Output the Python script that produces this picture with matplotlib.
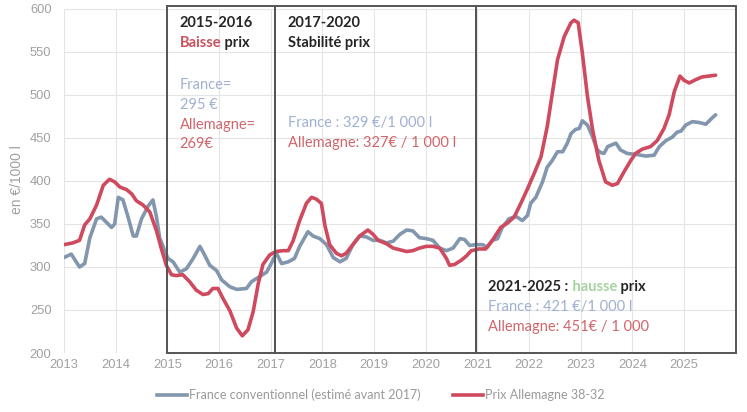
## prix du lait France / Allemagne
import matplotlib
matplotlib.use("Agg")
import matplotlib.pyplot as plt
from matplotlib.lines import Line2D
from matplotlib.patches import Rectangle

## donnees (annee decimale, euros / 1000 l)
france_x = [2013.00, 2013.14, 2013.30, 2013.40, 2013.50, 2013.63, 2013.72, 2013.82, 2013.92, 2013.98,
            2014.05, 2014.14, 2014.24, 2014.34, 2014.40, 2014.50, 2014.63, 2014.72, 2014.79, 2014.85,
            2015.01, 2015.11, 2015.24, 2015.37, 2015.50, 2015.63, 2015.72, 2015.82, 2015.95,
            2016.05, 2016.21, 2016.34, 2016.53, 2016.63, 2016.79, 2016.92,
            2017.01, 2017.11, 2017.21, 2017.34, 2017.46, 2017.56, 2017.72, 2017.82, 2017.95,
            2018.08, 2018.21, 2018.34, 2018.46, 2018.59, 2018.72, 2018.85, 2018.98,
            2019.11, 2019.24, 2019.37, 2019.50, 2019.63, 2019.75, 2019.88,
            2020.01, 2020.14, 2020.27, 2020.40, 2020.53, 2020.66, 2020.75, 2020.85, 2020.97,
            2021.10, 2021.19, 2021.29, 2021.39, 2021.48, 2021.61, 2021.74, 2021.87, 2021.97,
            2022.03, 2022.13, 2022.26, 2022.35, 2022.45, 2022.55, 2022.65, 2022.74, 2022.81, 2022.90, 2022.97,
            2023.03, 2023.13, 2023.23, 2023.32, 2023.39, 2023.45, 2023.52, 2023.68, 2023.77, 2023.90,
            2024.06, 2024.26, 2024.42, 2024.52, 2024.65, 2024.77, 2024.87, 2024.94,
            2025.03, 2025.16, 2025.29, 2025.42, 2025.52, 2025.61]
france_y = [311, 315, 300, 304, 334, 356, 358, 352, 346, 350,
            381, 378, 358, 336, 336, 356, 371, 378, 358, 334,
            310, 306, 294, 298, 310, 324, 314, 302, 296,
            285, 277, 274, 275, 283, 289, 294,
            304, 316, 304, 306, 310, 324, 341, 336, 333,
            326, 311, 306, 310, 326, 336, 335, 331,
            331, 328, 330, 338, 343, 342, 334,
            333, 331, 322, 319, 322, 333, 332, 325, 326,
            326, 323, 331, 333, 346, 356, 359, 354, 360,
            374, 381, 399, 416, 424, 434, 434, 444, 455, 460, 461,
            470, 465, 451, 436, 433, 432, 440, 444, 436, 432,
            431, 429, 430, 440, 447, 451, 457, 458,
            465, 469, 468, 466, 472, 477]

allemagne_x = [2013.00, 2013.17, 2013.30, 2013.40, 2013.50, 2013.63, 2013.76, 2013.88, 2013.98,
               2014.08, 2014.21, 2014.31, 2014.40, 2014.53, 2014.66, 2014.79, 2014.88, 2014.98,
               2015.08, 2015.17, 2015.30, 2015.43, 2015.56, 2015.69, 2015.79, 2015.88, 2015.98,
               2016.08, 2016.21, 2016.34, 2016.45, 2016.56, 2016.66, 2016.76, 2016.85, 2016.98,
               2017.10, 2017.24, 2017.34, 2017.43, 2017.56, 2017.69, 2017.79, 2017.88, 2017.98,
               2018.05, 2018.14, 2018.27, 2018.37, 2018.46, 2018.59, 2018.72, 2018.88, 2018.98,
               2019.08, 2019.24, 2019.37, 2019.50, 2019.63, 2019.75, 2019.88,
               2020.01, 2020.14, 2020.27, 2020.40, 2020.46, 2020.56, 2020.69, 2020.79, 2020.88, 2020.97,
               2021.03, 2021.16, 2021.29, 2021.45, 2021.58, 2021.71, 2021.84, 2021.97,
               2022.10, 2022.23, 2022.35, 2022.45, 2022.55, 2022.68, 2022.81, 2022.87, 2022.95,
               2023.03, 2023.13, 2023.23, 2023.35, 2023.48, 2023.61, 2023.71, 2023.84, 2023.97,
               2024.06, 2024.19, 2024.35, 2024.48, 2024.61, 2024.71, 2024.81, 2024.92,
               2025.00, 2025.10, 2025.23, 2025.35, 2025.48, 2025.61]
allemagne_y = [326, 328, 331, 349, 356, 372, 395, 402, 399,
               393, 390, 385, 377, 372, 364, 342, 322, 302,
               291, 290, 291, 283, 273, 268, 269, 275, 275,
               263, 249, 229, 220, 227, 248, 281, 303, 314,
               318, 319, 319, 330, 354, 374, 381, 379, 374,
               348, 326, 316, 313, 316, 326, 336, 343, 338,
               331, 327, 322, 320, 318, 319, 322,
               324, 324, 322, 310, 302, 303, 308, 313, 319, 320,
               321, 321, 331, 346, 351, 358, 374, 391,
               409, 428, 463, 502, 541, 568, 584, 587, 584,
               549, 498, 459, 424, 399, 395, 397, 411, 424,
               432, 437, 440, 447, 461, 477, 504, 522,
               517, 514, 518, 521, 522, 523]

annees = list(range(2013, 2026))
yticks = list(range(200, 601, 50))
## limites des cadres (periodes)
periodes = [2015.0, 2017.08, 2020.97, 2026.0]

bleu = "#8296ae"
rouge = "#cf4a5e"
txt_bleu = "#9fb0d2"
txt_rouge = "#d0666c"
noir = "#262626"
gris = "#a0a0a0"

fig = plt.figure(figsize=(7.47, 4.12), dpi=100)
ax = fig.add_axes([0.0857, 0.1432, 0.8993, 0.8350])

ax.plot(france_x, france_y, color=bleu, lw=2.6, solid_joinstyle="round", solid_capstyle="round")
ax.plot(allemagne_x, allemagne_y, color=rouge, lw=2.6, solid_joinstyle="round", solid_capstyle="round")

ax.set_xlim(2013, 2026)
ax.set_ylim(200, 600)
ax.set_xticks(annees)
ax.set_yticks(yticks)
ax.grid(color="#e4e4e4", lw=0.8)
ax.set_axisbelow(True)
for s in ax.spines.values():
    s.set_visible(False)
ax.tick_params(length=0, colors=gris, labelsize=9.3)
ax.tick_params(axis="y", pad=9)
ax.tick_params(axis="x", pad=4)
for lab in ax.get_xticklabels() + ax.get_yticklabels():
    lab.set_fontfamily("Liberation Sans")

fig.text(17 / 747, 0.563, "en €/1000 l", rotation=90, color=gris, fontsize=10,
         fontfamily="Liberation Sans", ha="center", va="center")

## cadres
for i in range(3):
    r = Rectangle((periodes[i], 200), periodes[i + 1] - periodes[i], 403.5,
                  fill=False, ec="#555555", lw=1.4, clip_on=False, zorder=5)
    ax.add_patch(r)

police = ["Lato", "DejaVu Sans"]

def ligne(x, y, morceaux, bold=False, size=10.5):
    ## une ligne de texte en plusieurs couleurs
    w = "bold" if bold else "normal"
    t = ax.text(x, y, morceaux[0][0], color=morceaux[0][1], fontsize=size,
                fontweight=w, fontfamily=police, ha="left", va="center")
    for txt, col in morceaux[1:]:
        t = ax.annotate(txt, xy=(1, 0), xycoords=t, color=col, fontsize=size,
                        fontweight=w, fontfamily=police, ha="left", va="bottom")

x1 = 2015.24
ligne(x1, 584, [("2015-2016", noir)], bold=True)
ligne(x1, 560, [("Baisse", "#c9525f"), (" prix", noir)], bold=True)
ligne(x1, 512, [("France=", txt_bleu)])
ligne(x1, 488, [("295 €", txt_bleu)])
ligne(x1, 465, [("Allemagne=", txt_rouge)])
ligne(x1, 443, [("269€", txt_rouge)])

x2 = 2017.33
ligne(x2, 584, [("2017-2020", noir)], bold=True)
ligne(x2, 560, [("Stabilité prix", noir)], bold=True)
ligne(x2, 467, [("France : 329 €/1 000 l", txt_bleu)])
ligne(x2, 444, [("Allemagne: 327€ / 1 000 l", txt_rouge)])

x3 = 2021.21
ligne(x3, 277, [("2021-2025 :", noir), (" hausse", "#a6d3a0"), (" prix", noir)], bold=True)
ligne(x3, 253, [("France : 421 €/1 000 l", txt_bleu)])
ligne(x3, 230, [("Allemagne: 451€ / 1 000", txt_rouge)])

## legende
handles = [Line2D([], [], color=bleu, lw=2.6), Line2D([], [], color=rouge, lw=2.6)]
labels = ["France conventionnel (estimé avant 2017)", "Prix Allemagne 38-32"]
leg = fig.legend(handles, labels, loc="center", bbox_to_anchor=(0.51, 0.041), ncol=2,
                 frameon=False, handlelength=2.4, handletextpad=0.15, columnspacing=2.6,
                 prop={"family": police, "size": 9})
for t in leg.get_texts():
    t.set_color("#9a9a9a")

fig.savefig("out.png", dpi=100)
